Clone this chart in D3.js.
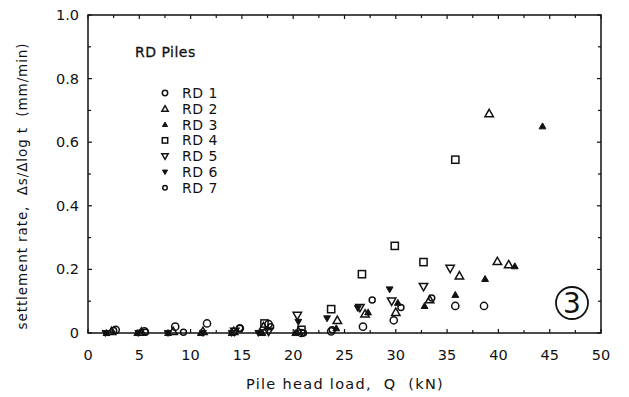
<!DOCTYPE html>
<html><head><meta charset="utf-8">
<script src="https://cdn.jsdelivr.net/npm/d3@7"></script>
<style>body{margin:0;background:#fff}svg{display:block}text{font-family:"DejaVu Sans",sans-serif;fill:#111;white-space:pre}</style>
</head><body><svg id="c" width="629" height="397"></svg>
<script>
const xTicks=[0,5,10,15,20,25,30,35,40,45,50];
const yTicks=[0,0.2,0.4,0.6,0.8,1.0];
const yTickLabels=["0","0.2","0.4","0.6","0.8","1.0"];
const seriesNames=["RD 1","RD 2","RD 3","RD 4","RD 5","RD 6","RD 7"];
const rd1=[[2.7,0.01],[5.5,0.005],[8.5,0.02],[11.6,0.03],[14.8,0.015],[17.6,0.028],[20.8,0.0],[23.7,0.005],[26.8,0.02],[29.8,0.04],[35.8,0.085],[38.6,0.085]];
const rd2=[[2.3,0.005],[5.2,0.003],[8.3,0.005],[11.2,0.005],[14.2,0.005],[17.1,0.02],[20.5,0.005],[24.3,0.04],[27.0,0.06],[30.0,0.065],[33.3,0.105],[36.2,0.18],[39.9,0.225],[41.0,0.215],[39.1,0.69]];
const rd3=[[1.8,0.0],[4.8,0.0],[7.8,0.0],[11.0,0.0],[14.0,0.0],[17.0,0.0],[20.2,0.0],[24.2,0.015],[27.3,0.065],[30.2,0.095],[32.8,0.085],[35.8,0.12],[38.7,0.17],[41.6,0.21],[44.3,0.65]];
const rd4=[[17.2,0.03],[20.8,0.01],[23.7,0.075],[26.7,0.185],[29.9,0.274],[32.7,0.223],[35.8,0.545]];
const rd5=[[14.3,0.005],[17.6,0.005],[20.4,0.055],[26.5,0.08],[29.6,0.10],[32.7,0.146],[35.3,0.203]];
const rd6=[[1.7,0.0],[4.9,0.0],[7.8,0.0],[11.2,0.0],[14.0,0.0],[16.6,0.0],[20.5,0.035],[23.3,0.046],[26.3,0.078],[29.4,0.137]];
const rd7=[[2.5,0.008],[5.6,0.002],[9.3,0.002],[14.8,0.015],[17.8,0.02],[21.0,0.0],[23.8,0.01],[27.7,0.104],[30.5,0.08],[33.5,0.11]];
const allSeries=[rd1,rd2,rd3,rd4,rd5,rd6,rd7];

const svg=d3.select("#c");
const L=88,R=601,T=15,B=333;
const x=d3.scaleLinear().domain([0,50]).range([L,R]);
const y=d3.scaleLinear().domain([0,1]).range([B,T]);

svg.append("rect").attr("x",L).attr("y",T).attr("width",R-L).attr("height",B-T)
  .attr("fill","none").attr("stroke","#111").attr("stroke-width",1.5);

const minorX=d3.range(0,50.01,2.5), minorY=d3.range(0,1.001,0.1);
const tg=svg.append("g").attr("stroke","#111").attr("stroke-width",1.2);
minorX.forEach(v=>{const len=(v%5===0)?4:3;
  tg.append("line").attr("x1",x(v)).attr("x2",x(v)).attr("y1",B).attr("y2",B-len);
  tg.append("line").attr("x1",x(v)).attr("x2",x(v)).attr("y1",T).attr("y2",T+len);});
minorY.forEach(v=>{const len=(Math.round(v*10)%2===0)?4:3;
  tg.append("line").attr("x1",L).attr("x2",L+len).attr("y1",y(v)).attr("y2",y(v));
  tg.append("line").attr("x1",R).attr("x2",R-len).attr("y1",y(v)).attr("y2",y(v));});

svg.append("g").selectAll("text").data(xTicks).join("text")
  .attr("x",d=>x(d)).attr("y",360).attr("text-anchor","middle").attr("font-size",14.5).text(d=>d);
svg.append("g").selectAll("text").data(yTicks).join("text")
  .attr("x",79).attr("y",d=>y(d)+5).attr("text-anchor","end").attr("font-size",14.5).text((d,i)=>yTickLabels[i]);

svg.append("text").attr("x",345).attr("y",389).attr("text-anchor","middle").attr("font-size",14.5)
  .attr("letter-spacing",1.3).text("Pile head load,  Q  (kN)");
svg.append("text").attr("transform","translate(27,186) rotate(-90)").attr("text-anchor","middle").attr("font-size",13.5)
  .attr("letter-spacing",0.9).text("settlement rate,  Δs/Δlog t  (mm/min)");

function sym(g,i,cx,cy,k){
  if(i===0||i===6){ g.append("circle").attr("cx",cx).attr("cy",cy).attr("r",i===0?3.6*k:3.0*k).attr("fill","none").attr("stroke","#111").attr("stroke-width",1.5);}
  else if(i===1){ const h=4.2*k;
    g.append("path").attr("d",`M${cx},${cy-h}L${cx+h},${cy+h*0.75}L${cx-h},${cy+h*0.75}Z`)
     .attr("fill","none").attr("stroke","#111").attr("stroke-width",1.5);}
  else if(i===2){ const h=3.4*k;
    g.append("path").attr("d",`M${cx},${cy-h}L${cx+h},${cy+h*0.75}L${cx-h},${cy+h*0.75}Z`)
     .attr("fill","#111").attr("stroke","#111").attr("stroke-width",1);}
  else if(i===3){ const h=3.6*k;
    g.append("rect").attr("x",cx-h).attr("y",cy-h).attr("width",2*h).attr("height",2*h).attr("fill","none").attr("stroke","#111").attr("stroke-width",1.5);}
  else if(i===4){ const h=4.2*k;
    g.append("path").attr("d",`M${cx},${cy+h}L${cx+h},${cy-h*0.75}L${cx-h},${cy-h*0.75}Z`)
     .attr("fill","none").attr("stroke","#111").attr("stroke-width",1.5);}
  else { const h=3.4*k;
    g.append("path").attr("d",`M${cx},${cy+h}L${cx+h},${cy-h*0.75}L${cx-h},${cy-h*0.75}Z`)
     .attr("fill","#111").attr("stroke","#111").attr("stroke-width",1);}
}
const pg=svg.append("g");
allSeries.forEach((s,i)=>s.forEach(d=>sym(pg,i,x(d[0]),y(d[1]),1)));

svg.append("text").attr("x",135).attr("y",57).attr("font-size",14).attr("letter-spacing",0.5)
  .attr("stroke","#111").attr("stroke-width",0.3).text("RD Piles");
const lg=svg.append("g");
seriesNames.forEach((n,i)=>{const yy=93+i*15.8;
  sym(lg,i,165,yy,0.75);
  lg.append("text").attr("x",182).attr("y",yy+5).attr("font-size",14).attr("letter-spacing",0.5).text(n);});

svg.append("circle").attr("cx",572).attr("cy",303).attr("r",16).attr("fill","none").attr("stroke","#111").attr("stroke-width",1.8);
svg.append("text").attr("x",572).attr("y",313).attr("text-anchor","middle").attr("font-size",28).text("3");
</script></body></html>
